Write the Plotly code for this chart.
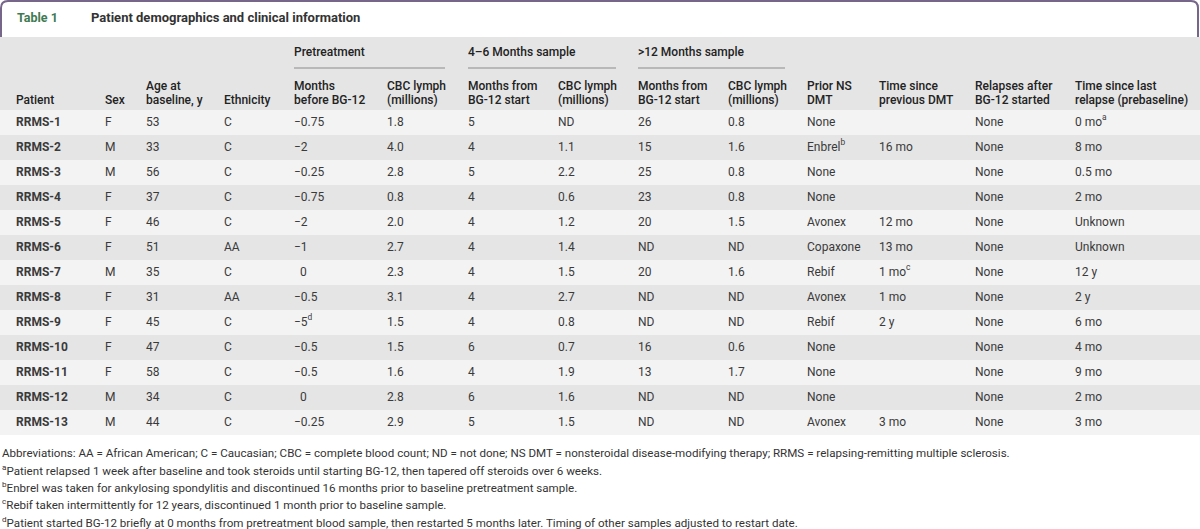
import plotly.graph_objects as go

W, H = 1200, 529

patients = ["RRMS-%d" % i for i in range(1, 14)]
sex = ["F", "M", "M", "F", "F", "F", "M", "F", "F", "F", "F", "M", "M"]
age = [53, 33, 56, 37, 46, 51, 35, 31, 45, 47, 58, 34, 44]
ethnicity = ["C", "C", "C", "C", "C", "AA", "C", "AA", "C", "C", "C", "C", "C"]
pre_months = [-0.75, -2, -0.25, -0.75, -2, -1, 0, -0.5, -5, -0.5, -0.5, 0, -0.25]
pre_marks = ["", "", "", "", "", "", "", "", "d", "", "", "", ""]
pre_cbc = [1.8, 4.0, 2.8, 0.8, 2.0, 2.7, 2.3, 3.1, 1.5, 1.5, 1.6, 2.8, 2.9]
mid_months = [5, 4, 5, 4, 4, 4, 4, 4, 4, 6, 4, 6, 5]
mid_cbc = [None, 1.1, 2.2, 0.6, 1.2, 1.4, 1.5, 2.7, 0.8, 0.7, 1.9, 1.6, 1.5]
late_months = [26, 15, 25, 23, 20, None, 20, None, None, 16, 13, None, None]
late_cbc = [0.8, 1.6, 0.8, 0.8, 1.5, None, 1.6, None, None, 0.6, 1.7, None, None]
prior_dmt = ["None", "Enbrel<sup>b</sup>", "None", "None", "Avonex", "Copaxone", "Rebif",
             "Avonex", "Rebif", "None", "None", "None", "Avonex"]
time_since_dmt = ["", "16 mo", "", "", "12 mo", "13 mo", "1 mo<sup>c</sup>", "1 mo", "2 y",
                  "", "", "", "3 mo"]
relapses = ["None"] * 13
last_relapse = ["0 mo<sup>a</sup>", "8 mo", "0.5 mo", "2 mo", "Unknown", "Unknown", "12 y",
                "2 y", "6 mo", "4 mo", "9 mo", "2 mo", "3 mo"]

headers = [("", "Patient"), ("", "Sex"), ("Age at", "baseline, y"), ("", "Ethnicity"),
           ("Months", "before BG-12"), ("CBC lymph", "(millions)"),
           ("Months from", "BG-12 start"), ("CBC lymph", "(millions)"),
           ("Months from", "BG-12 start"), ("CBC lymph", "(millions)"),
           ("Prior NS", "DMT"), ("Time since", "previous DMT"), ("Relapses after", "BG-12 started"),
           ("Time since last", "relapse (prebaseline)")]
groups = ["Pretreatment", "4\u20136 Months sample", ">12 Months sample"]

footnotes = [
    "Abbreviations: AA = African American; C = Caucasian; CBC = complete blood count; ND = not done; "
    "NS DMT = nonsteroidal disease-modifying therapy; RRMS = relapsing-remitting multiple sclerosis.",
    "<sup>a</sup>Patient relapsed 1 week after baseline and took steroids until starting BG-12, "
    "then tapered off steroids over 6 weeks.",
    "<sup>b</sup>Enbrel was taken for ankylosing spondylitis and discontinued 16 months prior to "
    "baseline pretreatment sample.",
    "<sup>c</sup>Rebif taken intermittently for 12 years, discontinued 1 month prior to baseline sample.",
    "<sup>d</sup>Patient started BG-12 briefly at 0 months from pretreatment blood sample, then "
    "restarted 5 months later. Timing of other samples adjusted to restart date.",
]


def fmt_months(v, mark):
    s = "\u2212%g" % abs(v) if v < 0 else "\u2002%g" % v
    return s + ("<sup>%s</sup>" % mark if mark else "")


def fmt(v, f="%.1f"):
    return "ND" if v is None else f % v


def px(x):
    return x / W


def py(y):
    return 1 - y / H


cols = [
    ["<b>%s</b>" % p for p in patients],
    sex,
    [str(a) for a in age],
    ethnicity,
    [fmt_months(v, m) for v, m in zip(pre_months, pre_marks)],
    [fmt(v) for v in pre_cbc],
    [str(v) for v in mid_months],
    [fmt(v) for v in mid_cbc],
    [fmt(v, "%d") for v in late_months],
    [fmt(v) for v in late_cbc],
    prior_dmt,
    time_since_dmt,
    relapses,
    last_relapse,
]
col_x = [16, 105, 146, 224, 294, 387, 468, 558, 638, 728, 807, 879, 975, 1075]

light, dark = "#f3f3f3", "#e5e5e5"
rows = list(range(len(patients)))
row_fill = [light if i % 2 == 0 else dark for i in rows]

# row i occupies pixels 110+25i .. 135+25i
ROW_TOP, ROW_H = 110, 25


def y_at(pix):
    return (pix - ROW_TOP) / ROW_H - 0.5


fig = go.Figure()
fig.add_trace(go.Bar(orientation="h", x=[W] * len(rows), y=rows, width=1, base=0,
                     marker=dict(color=row_fill, line_width=0), hoverinfo="skip",
                     showlegend=False))
for x0, col in zip(col_x, cols):
    ys = [r for r, t in zip(rows, col) if t]
    ts = [t for t in col if t]
    fig.add_trace(go.Scatter(x=[x0] * len(ys), y=ys, text=ts, mode="text",
                             textposition="middle right", hoverinfo="skip", showlegend=False,
                             textfont=dict(family="Roboto", size=12, color="#3a3a3a")))

shapes = [
    dict(type="rect", xref="paper", yref="paper", x0=0, x1=1, y0=py(ROW_TOP), y1=py(37),
         fillcolor=dark, line_width=0, layer="below"),
    dict(type="path", xref="paper", yref="paper",
         path="M %f,%f L %f,%f Q %f,%f %f,%f L %f,%f Q %f,%f %f,%f L %f,%f" % (
             px(1), py(37), px(1), py(8), px(1), py(1), px(8), py(1),
             px(1191), py(1), px(1198), py(1), px(1198), py(8), px(1198), py(37)),
         line=dict(color="#76668a", width=2)),
]
hfont = dict(family="Roboto", size=12, color="#222222", weight=500)
annotations = [
    dict(text="<b>Table 1</b>", x=px(15), y=py(18), font=dict(size=12.5, color="#3f7a52")),
    dict(text="<b>Patient demographics and clinical information</b>", x=px(89), y=py(18),
         font=dict(size=13, color="#333333")),
]
group_x = [(294, 445), (468, 616), (638, 785)]
for g, (x0, x1) in zip(groups, group_x):
    annotations.append(dict(text=g, x=px(x0 - 2), y=py(52), font=hfont))
    shapes.append(dict(type="line", xref="paper", yref="paper", x0=px(x0), x1=px(x1),
                       y0=py(68), y1=py(68), line=dict(color="#a8a8a8", width=1.5)))
for x0, (l1, l2) in zip(col_x, headers):
    for txt, yy in ((l1, 86), (l2, 99.5)):
        if txt:
            annotations.append(dict(text=txt, x=px(x0 - 2), y=py(yy), font=hfont))
for i, t in enumerate(footnotes):
    annotations.append(dict(text=t, x=px(0), y=py(452.5 + i * 17.3),
                            font=dict(family="Roboto", size=11.6, color="#333333")))
for a in annotations:
    a.update(xref="paper", yref="paper", xanchor="left", yanchor="middle", showarrow=False)

fig.update_layout(width=W, height=H, margin=dict(l=0, r=0, t=0, b=0),
                  paper_bgcolor="white", plot_bgcolor="white",
                  shapes=shapes, annotations=annotations, bargap=0,
                  xaxis=dict(range=[0, W], visible=False, fixedrange=True),
                  yaxis=dict(range=[y_at(H), y_at(0)], visible=False, fixedrange=True),
                  font=dict(family="Roboto"))
fig.write_html("out.html", config={"displayModeBar": False},
               post_script="document.body.style.margin='0';")
